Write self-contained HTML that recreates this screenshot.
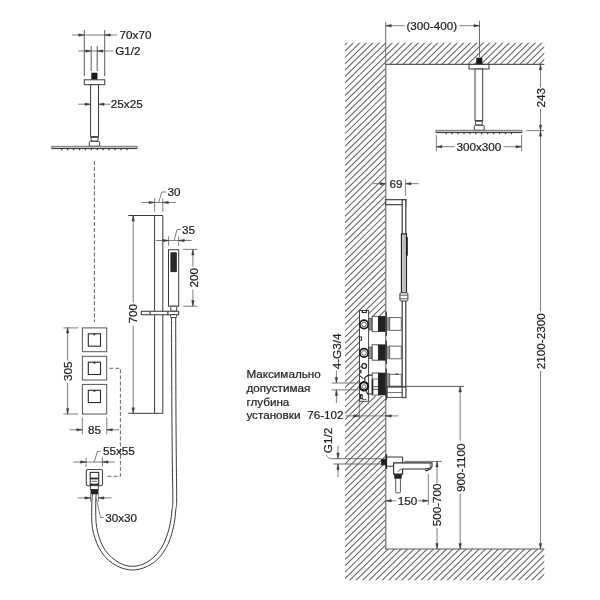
<!DOCTYPE html>
<html><head><meta charset="utf-8"><title>Shower system dimensions</title>
<style>html,body{margin:0;padding:0;background:#fff;}body{width:600px;height:600px;overflow:hidden;}svg{display:block;will-change:transform;}text{font-family:"Liberation Sans",sans-serif;}</style></head><body>
<svg width="600" height="600" viewBox="0 0 600 600">
<rect x="0" y="0" width="600" height="600" fill="#ffffff"/>
<defs><clipPath id="hc"><path d="M345.0,42.8 H544.3 V64.4 H385.7 V316.3 H368.7 V310.5 H359.3 V401.3 H368.7 V396 H385.7 V549.0 H544.3 V580.3 H345.0 Z"/></clipPath></defs>
<g clip-path="url(#hc)">
<line x1="343.00" y1="27.54" x2="546.30" y2="-171.29" stroke="#626262" stroke-width="1.05" />
<line x1="343.00" y1="33.90" x2="546.30" y2="-164.93" stroke="#626262" stroke-width="1.05" />
<line x1="343.00" y1="40.25" x2="546.30" y2="-158.58" stroke="#626262" stroke-width="1.05" />
<line x1="343.00" y1="46.61" x2="546.30" y2="-152.22" stroke="#626262" stroke-width="1.05" />
<line x1="343.00" y1="52.96" x2="546.30" y2="-145.87" stroke="#626262" stroke-width="1.05" />
<line x1="343.00" y1="59.32" x2="546.30" y2="-139.51" stroke="#626262" stroke-width="1.05" />
<line x1="343.00" y1="65.67" x2="546.30" y2="-133.16" stroke="#626262" stroke-width="1.05" />
<line x1="343.00" y1="72.03" x2="546.30" y2="-126.80" stroke="#626262" stroke-width="1.05" />
<line x1="343.00" y1="78.38" x2="546.30" y2="-120.45" stroke="#626262" stroke-width="1.05" />
<line x1="343.00" y1="84.74" x2="546.30" y2="-114.09" stroke="#626262" stroke-width="1.05" />
<line x1="343.00" y1="91.09" x2="546.30" y2="-107.74" stroke="#626262" stroke-width="1.05" />
<line x1="343.00" y1="97.45" x2="546.30" y2="-101.38" stroke="#626262" stroke-width="1.05" />
<line x1="343.00" y1="103.80" x2="546.30" y2="-95.03" stroke="#626262" stroke-width="1.05" />
<line x1="343.00" y1="110.16" x2="546.30" y2="-88.67" stroke="#626262" stroke-width="1.05" />
<line x1="343.00" y1="116.51" x2="546.30" y2="-82.32" stroke="#626262" stroke-width="1.05" />
<line x1="343.00" y1="122.87" x2="546.30" y2="-75.96" stroke="#626262" stroke-width="1.05" />
<line x1="343.00" y1="129.22" x2="546.30" y2="-69.61" stroke="#626262" stroke-width="1.05" />
<line x1="343.00" y1="135.58" x2="546.30" y2="-63.25" stroke="#626262" stroke-width="1.05" />
<line x1="343.00" y1="141.93" x2="546.30" y2="-56.90" stroke="#626262" stroke-width="1.05" />
<line x1="343.00" y1="148.29" x2="546.30" y2="-50.54" stroke="#626262" stroke-width="1.05" />
<line x1="343.00" y1="154.64" x2="546.30" y2="-44.19" stroke="#626262" stroke-width="1.05" />
<line x1="343.00" y1="161.00" x2="546.30" y2="-37.83" stroke="#626262" stroke-width="1.05" />
<line x1="343.00" y1="167.35" x2="546.30" y2="-31.48" stroke="#626262" stroke-width="1.05" />
<line x1="343.00" y1="173.71" x2="546.30" y2="-25.12" stroke="#626262" stroke-width="1.05" />
<line x1="343.00" y1="180.06" x2="546.30" y2="-18.77" stroke="#626262" stroke-width="1.05" />
<line x1="343.00" y1="186.42" x2="546.30" y2="-12.41" stroke="#626262" stroke-width="1.05" />
<line x1="343.00" y1="192.77" x2="546.30" y2="-6.06" stroke="#626262" stroke-width="1.05" />
<line x1="343.00" y1="199.13" x2="546.30" y2="0.30" stroke="#626262" stroke-width="1.05" />
<line x1="343.00" y1="205.48" x2="546.30" y2="6.65" stroke="#626262" stroke-width="1.05" />
<line x1="343.00" y1="211.84" x2="546.30" y2="13.01" stroke="#626262" stroke-width="1.05" />
<line x1="343.00" y1="218.19" x2="546.30" y2="19.36" stroke="#626262" stroke-width="1.05" />
<line x1="343.00" y1="224.55" x2="546.30" y2="25.72" stroke="#626262" stroke-width="1.05" />
<line x1="343.00" y1="230.90" x2="546.30" y2="32.07" stroke="#626262" stroke-width="1.05" />
<line x1="343.00" y1="237.26" x2="546.30" y2="38.43" stroke="#626262" stroke-width="1.05" />
<line x1="343.00" y1="243.61" x2="546.30" y2="44.78" stroke="#626262" stroke-width="1.05" />
<line x1="343.00" y1="249.97" x2="546.30" y2="51.14" stroke="#626262" stroke-width="1.05" />
<line x1="343.00" y1="256.32" x2="546.30" y2="57.49" stroke="#626262" stroke-width="1.05" />
<line x1="343.00" y1="262.68" x2="546.30" y2="63.85" stroke="#626262" stroke-width="1.05" />
<line x1="343.00" y1="269.03" x2="546.30" y2="70.20" stroke="#626262" stroke-width="1.05" />
<line x1="343.00" y1="275.39" x2="546.30" y2="76.56" stroke="#626262" stroke-width="1.05" />
<line x1="343.00" y1="281.74" x2="546.30" y2="82.91" stroke="#626262" stroke-width="1.05" />
<line x1="343.00" y1="288.10" x2="546.30" y2="89.27" stroke="#626262" stroke-width="1.05" />
<line x1="343.00" y1="294.45" x2="546.30" y2="95.62" stroke="#626262" stroke-width="1.05" />
<line x1="343.00" y1="300.81" x2="546.30" y2="101.98" stroke="#626262" stroke-width="1.05" />
<line x1="343.00" y1="307.16" x2="546.30" y2="108.33" stroke="#626262" stroke-width="1.05" />
<line x1="343.00" y1="313.52" x2="546.30" y2="114.69" stroke="#626262" stroke-width="1.05" />
<line x1="343.00" y1="319.87" x2="546.30" y2="121.04" stroke="#626262" stroke-width="1.05" />
<line x1="343.00" y1="326.23" x2="546.30" y2="127.40" stroke="#626262" stroke-width="1.05" />
<line x1="343.00" y1="332.58" x2="546.30" y2="133.75" stroke="#626262" stroke-width="1.05" />
<line x1="343.00" y1="338.94" x2="546.30" y2="140.11" stroke="#626262" stroke-width="1.05" />
<line x1="343.00" y1="345.29" x2="546.30" y2="146.46" stroke="#626262" stroke-width="1.05" />
<line x1="343.00" y1="351.65" x2="546.30" y2="152.82" stroke="#626262" stroke-width="1.05" />
<line x1="343.00" y1="358.00" x2="546.30" y2="159.17" stroke="#626262" stroke-width="1.05" />
<line x1="343.00" y1="364.36" x2="546.30" y2="165.53" stroke="#626262" stroke-width="1.05" />
<line x1="343.00" y1="370.71" x2="546.30" y2="171.88" stroke="#626262" stroke-width="1.05" />
<line x1="343.00" y1="377.07" x2="546.30" y2="178.24" stroke="#626262" stroke-width="1.05" />
<line x1="343.00" y1="383.42" x2="546.30" y2="184.59" stroke="#626262" stroke-width="1.05" />
<line x1="343.00" y1="389.78" x2="546.30" y2="190.95" stroke="#626262" stroke-width="1.05" />
<line x1="343.00" y1="396.13" x2="546.30" y2="197.30" stroke="#626262" stroke-width="1.05" />
<line x1="343.00" y1="402.49" x2="546.30" y2="203.66" stroke="#626262" stroke-width="1.05" />
<line x1="343.00" y1="408.84" x2="546.30" y2="210.01" stroke="#626262" stroke-width="1.05" />
<line x1="343.00" y1="415.20" x2="546.30" y2="216.37" stroke="#626262" stroke-width="1.05" />
<line x1="343.00" y1="421.55" x2="546.30" y2="222.72" stroke="#626262" stroke-width="1.05" />
<line x1="343.00" y1="427.91" x2="546.30" y2="229.08" stroke="#626262" stroke-width="1.05" />
<line x1="343.00" y1="434.26" x2="546.30" y2="235.43" stroke="#626262" stroke-width="1.05" />
<line x1="343.00" y1="440.62" x2="546.30" y2="241.79" stroke="#626262" stroke-width="1.05" />
<line x1="343.00" y1="446.97" x2="546.30" y2="248.14" stroke="#626262" stroke-width="1.05" />
<line x1="343.00" y1="453.33" x2="546.30" y2="254.50" stroke="#626262" stroke-width="1.05" />
<line x1="343.00" y1="459.68" x2="546.30" y2="260.85" stroke="#626262" stroke-width="1.05" />
<line x1="343.00" y1="466.04" x2="546.30" y2="267.21" stroke="#626262" stroke-width="1.05" />
<line x1="343.00" y1="472.39" x2="546.30" y2="273.56" stroke="#626262" stroke-width="1.05" />
<line x1="343.00" y1="478.75" x2="546.30" y2="279.92" stroke="#626262" stroke-width="1.05" />
<line x1="343.00" y1="485.10" x2="546.30" y2="286.27" stroke="#626262" stroke-width="1.05" />
<line x1="343.00" y1="491.46" x2="546.30" y2="292.63" stroke="#626262" stroke-width="1.05" />
<line x1="343.00" y1="497.81" x2="546.30" y2="298.98" stroke="#626262" stroke-width="1.05" />
<line x1="343.00" y1="504.17" x2="546.30" y2="305.34" stroke="#626262" stroke-width="1.05" />
<line x1="343.00" y1="510.52" x2="546.30" y2="311.69" stroke="#626262" stroke-width="1.05" />
<line x1="343.00" y1="516.88" x2="546.30" y2="318.05" stroke="#626262" stroke-width="1.05" />
<line x1="343.00" y1="523.23" x2="546.30" y2="324.40" stroke="#626262" stroke-width="1.05" />
<line x1="343.00" y1="529.59" x2="546.30" y2="330.76" stroke="#626262" stroke-width="1.05" />
<line x1="343.00" y1="535.94" x2="546.30" y2="337.11" stroke="#626262" stroke-width="1.05" />
<line x1="343.00" y1="542.30" x2="546.30" y2="343.47" stroke="#626262" stroke-width="1.05" />
<line x1="343.00" y1="548.65" x2="546.30" y2="349.82" stroke="#626262" stroke-width="1.05" />
<line x1="343.00" y1="555.01" x2="546.30" y2="356.18" stroke="#626262" stroke-width="1.05" />
<line x1="343.00" y1="561.36" x2="546.30" y2="362.53" stroke="#626262" stroke-width="1.05" />
<line x1="343.00" y1="567.72" x2="546.30" y2="368.89" stroke="#626262" stroke-width="1.05" />
<line x1="343.00" y1="574.07" x2="546.30" y2="375.24" stroke="#626262" stroke-width="1.05" />
<line x1="343.00" y1="580.43" x2="546.30" y2="381.60" stroke="#626262" stroke-width="1.05" />
<line x1="343.00" y1="586.78" x2="546.30" y2="387.95" stroke="#626262" stroke-width="1.05" />
<line x1="343.00" y1="593.14" x2="546.30" y2="394.31" stroke="#626262" stroke-width="1.05" />
<line x1="343.00" y1="599.49" x2="546.30" y2="400.66" stroke="#626262" stroke-width="1.05" />
<line x1="343.00" y1="605.85" x2="546.30" y2="407.02" stroke="#626262" stroke-width="1.05" />
<line x1="343.00" y1="612.20" x2="546.30" y2="413.37" stroke="#626262" stroke-width="1.05" />
<line x1="343.00" y1="618.56" x2="546.30" y2="419.73" stroke="#626262" stroke-width="1.05" />
<line x1="343.00" y1="624.91" x2="546.30" y2="426.08" stroke="#626262" stroke-width="1.05" />
<line x1="343.00" y1="631.27" x2="546.30" y2="432.44" stroke="#626262" stroke-width="1.05" />
<line x1="343.00" y1="637.62" x2="546.30" y2="438.79" stroke="#626262" stroke-width="1.05" />
<line x1="343.00" y1="643.98" x2="546.30" y2="445.15" stroke="#626262" stroke-width="1.05" />
<line x1="343.00" y1="650.33" x2="546.30" y2="451.50" stroke="#626262" stroke-width="1.05" />
<line x1="343.00" y1="656.69" x2="546.30" y2="457.86" stroke="#626262" stroke-width="1.05" />
<line x1="343.00" y1="663.04" x2="546.30" y2="464.21" stroke="#626262" stroke-width="1.05" />
<line x1="343.00" y1="669.40" x2="546.30" y2="470.57" stroke="#626262" stroke-width="1.05" />
<line x1="343.00" y1="675.75" x2="546.30" y2="476.92" stroke="#626262" stroke-width="1.05" />
<line x1="343.00" y1="682.11" x2="546.30" y2="483.28" stroke="#626262" stroke-width="1.05" />
<line x1="343.00" y1="688.46" x2="546.30" y2="489.63" stroke="#626262" stroke-width="1.05" />
<line x1="343.00" y1="694.82" x2="546.30" y2="495.99" stroke="#626262" stroke-width="1.05" />
<line x1="343.00" y1="701.17" x2="546.30" y2="502.34" stroke="#626262" stroke-width="1.05" />
<line x1="343.00" y1="707.53" x2="546.30" y2="508.70" stroke="#626262" stroke-width="1.05" />
<line x1="343.00" y1="713.88" x2="546.30" y2="515.05" stroke="#626262" stroke-width="1.05" />
<line x1="343.00" y1="720.24" x2="546.30" y2="521.41" stroke="#626262" stroke-width="1.05" />
<line x1="343.00" y1="726.59" x2="546.30" y2="527.76" stroke="#626262" stroke-width="1.05" />
<line x1="343.00" y1="732.95" x2="546.30" y2="534.12" stroke="#626262" stroke-width="1.05" />
<line x1="343.00" y1="739.30" x2="546.30" y2="540.47" stroke="#626262" stroke-width="1.05" />
<line x1="343.00" y1="745.66" x2="546.30" y2="546.83" stroke="#626262" stroke-width="1.05" />
<line x1="343.00" y1="752.01" x2="546.30" y2="553.18" stroke="#626262" stroke-width="1.05" />
<line x1="343.00" y1="758.37" x2="546.30" y2="559.54" stroke="#626262" stroke-width="1.05" />
<line x1="343.00" y1="764.72" x2="546.30" y2="565.89" stroke="#626262" stroke-width="1.05" />
<line x1="343.00" y1="771.08" x2="546.30" y2="572.25" stroke="#626262" stroke-width="1.05" />
<line x1="343.00" y1="777.43" x2="546.30" y2="578.60" stroke="#626262" stroke-width="1.05" />
</g>
<line x1="385.70" y1="64.40" x2="385.70" y2="549.00" stroke="#858585" stroke-width="1.45" />
<line x1="385.10" y1="64.40" x2="544.30" y2="64.40" stroke="#5a5a5a" stroke-width="1.15" />
<line x1="385.10" y1="549.00" x2="544.30" y2="549.00" stroke="#5a5a5a" stroke-width="1.15" />
<line x1="84.30" y1="30.00" x2="84.30" y2="76.00" stroke="#484848" stroke-width="0.9" />
<line x1="104.70" y1="30.00" x2="104.70" y2="76.00" stroke="#484848" stroke-width="0.9" />
<line x1="72.00" y1="35.00" x2="117.00" y2="35.00" stroke="#5e5e5e" stroke-width="0.8" />
<polygon points="84.30,35.00 78.70,33.75 78.70,36.25" fill="#3a3a3a" stroke="#3a3a3a" stroke-width="0.4"/>
<polygon points="104.70,35.00 110.30,33.75 110.30,36.25" fill="#3a3a3a" stroke="#3a3a3a" stroke-width="0.4"/>
<text x="119.60" y="38.50" font-size="11.7" fill="#1e1e1e" stroke="#1e1e1e" stroke-width="0.22" text-anchor="start">70x70</text>
<line x1="91.20" y1="46.00" x2="91.20" y2="71.00" stroke="#484848" stroke-width="0.9" />
<line x1="97.20" y1="46.00" x2="97.20" y2="71.00" stroke="#484848" stroke-width="0.9" />
<line x1="78.30" y1="51.00" x2="113.30" y2="51.00" stroke="#5e5e5e" stroke-width="0.8" />
<polygon points="91.20,51.00 85.60,49.75 85.60,52.25" fill="#3a3a3a" stroke="#3a3a3a" stroke-width="0.4"/>
<polygon points="97.20,51.00 102.80,49.75 102.80,52.25" fill="#3a3a3a" stroke="#3a3a3a" stroke-width="0.4"/>
<text x="115.20" y="54.60" font-size="11.7" fill="#1e1e1e" stroke="#1e1e1e" stroke-width="0.22" text-anchor="start">G1/2</text>
<rect x="91.70" y="73.00" width="5.40" height="6.50" fill="#1a1a1a" stroke="#1a1a1a" stroke-width="0.6" rx="0"/>
<rect x="84.30" y="79.80" width="20.40" height="4.90" fill="#fff" stroke="#3a3a3a" stroke-width="1.0" rx="0"/>
<rect x="90.60" y="84.70" width="7.90" height="52.00" fill="#fff" stroke="#3a3a3a" stroke-width="1.0" rx="0"/>
<line x1="78.30" y1="104.20" x2="90.60" y2="104.20" stroke="#5e5e5e" stroke-width="0.8" />
<polygon points="90.60,104.20 85.00,102.95 85.00,105.45" fill="#3a3a3a" stroke="#3a3a3a" stroke-width="0.4"/>
<line x1="98.50" y1="104.20" x2="110.00" y2="104.20" stroke="#5e5e5e" stroke-width="0.8" />
<polygon points="98.50,104.20 104.10,102.95 104.10,105.45" fill="#3a3a3a" stroke="#3a3a3a" stroke-width="0.4"/>
<text x="110.80" y="108.00" font-size="11.7" fill="#1e1e1e" stroke="#1e1e1e" stroke-width="0.22" text-anchor="start">25x25</text>
<rect x="91.10" y="136.70" width="6.90" height="4.50" fill="#fff" stroke="#3a3a3a" stroke-width="1.0" rx="1.2"/>
<line x1="91.10" y1="137.50" x2="98.00" y2="137.50" stroke="#444" stroke-width="0.9" />
<rect x="89.30" y="141.30" width="10.40" height="5.00" fill="#fff" stroke="#3a3a3a" stroke-width="1.0" rx="1.2"/>
<rect x="51.80" y="146.30" width="85.20" height="2.20" fill="#c6c6c6" stroke="#6a6a6a" stroke-width="0.9" rx="0"/>
<line x1="51.80" y1="148.60" x2="137.00" y2="148.60" stroke="#3a3a3a" stroke-width="1.0" />
<line x1="61.70" y1="148.50" x2="61.70" y2="150.20" stroke="#333" stroke-width="1.2" />
<line x1="67.63" y1="148.50" x2="67.63" y2="150.20" stroke="#333" stroke-width="1.2" />
<line x1="73.56" y1="148.50" x2="73.56" y2="150.20" stroke="#333" stroke-width="1.2" />
<line x1="79.49" y1="148.50" x2="79.49" y2="150.20" stroke="#333" stroke-width="1.2" />
<line x1="85.42" y1="148.50" x2="85.42" y2="150.20" stroke="#333" stroke-width="1.2" />
<line x1="91.35" y1="148.50" x2="91.35" y2="150.20" stroke="#333" stroke-width="1.2" />
<line x1="97.28" y1="148.50" x2="97.28" y2="150.20" stroke="#333" stroke-width="1.2" />
<line x1="103.21" y1="148.50" x2="103.21" y2="150.20" stroke="#333" stroke-width="1.2" />
<line x1="109.14" y1="148.50" x2="109.14" y2="150.20" stroke="#333" stroke-width="1.2" />
<line x1="115.07" y1="148.50" x2="115.07" y2="150.20" stroke="#333" stroke-width="1.2" />
<line x1="121.00" y1="148.50" x2="121.00" y2="150.20" stroke="#333" stroke-width="1.2" />
<line x1="126.93" y1="148.50" x2="126.93" y2="150.20" stroke="#333" stroke-width="1.2" />
<line x1="94.40" y1="161.00" x2="94.40" y2="322.00" stroke="#555" stroke-width="0.95" stroke-dasharray="4 2.1"/>
<line x1="154.60" y1="198.30" x2="154.60" y2="211.70" stroke="#5e5e5e" stroke-width="0.8" />
<line x1="162.80" y1="198.30" x2="162.80" y2="211.70" stroke="#5e5e5e" stroke-width="0.8" />
<line x1="141.30" y1="202.50" x2="175.80" y2="202.50" stroke="#5e5e5e" stroke-width="0.8" />
<polygon points="154.60,202.50 149.00,201.25 149.00,203.75" fill="#3a3a3a" stroke="#3a3a3a" stroke-width="0.4"/>
<polygon points="162.80,202.50 168.40,201.25 168.40,203.75" fill="#3a3a3a" stroke="#3a3a3a" stroke-width="0.4"/>
<path d="M158.7,202.5 L161.7,192 H166.3" fill="none" stroke="#5e5e5e" stroke-width="0.8" />
<text x="167.40" y="196.30" font-size="11.7" fill="#1e1e1e" stroke="#1e1e1e" stroke-width="0.22" text-anchor="start">30</text>
<path d="M128.3,215.5 H162.8 V413.3 H128.3" fill="none" stroke="#3a3a3a" stroke-width="1.0" />
<line x1="154.60" y1="215.50" x2="154.60" y2="413.30" stroke="#3a3a3a" stroke-width="1.0" />
<line x1="133.20" y1="215.50" x2="133.20" y2="302.50" stroke="#5e5e5e" stroke-width="0.8" />
<line x1="133.20" y1="325.50" x2="133.20" y2="413.30" stroke="#5e5e5e" stroke-width="0.8" />
<polygon points="133.20,215.50 131.95,221.10 134.45,221.10" fill="#3a3a3a" stroke="#3a3a3a" stroke-width="0.4"/>
<polygon points="133.20,413.30 131.95,407.70 134.45,407.70" fill="#3a3a3a" stroke="#3a3a3a" stroke-width="0.4"/>
<text transform="translate(137.30,323.40) rotate(-90)" font-size="11.7" fill="#1e1e1e" stroke="#1e1e1e" stroke-width="0.22" text-anchor="start">700</text>
<line x1="168.60" y1="236.30" x2="168.60" y2="245.80" stroke="#5e5e5e" stroke-width="0.8" />
<line x1="178.70" y1="236.30" x2="178.70" y2="245.80" stroke="#5e5e5e" stroke-width="0.8" />
<line x1="155.80" y1="240.50" x2="191.70" y2="240.50" stroke="#5e5e5e" stroke-width="0.8" />
<polygon points="168.60,240.50 163.00,239.25 163.00,241.75" fill="#3a3a3a" stroke="#3a3a3a" stroke-width="0.4"/>
<polygon points="178.70,240.50 184.30,239.25 184.30,241.75" fill="#3a3a3a" stroke="#3a3a3a" stroke-width="0.4"/>
<path d="M174.2,240.5 L177,229.5 H180.8" fill="none" stroke="#5e5e5e" stroke-width="0.8" />
<text x="182.00" y="233.80" font-size="11.7" fill="#1e1e1e" stroke="#1e1e1e" stroke-width="0.22" text-anchor="start">35</text>
<rect x="168.50" y="249.70" width="10.20" height="56.50" fill="#fff" stroke="#3a3a3a" stroke-width="1.0" rx="0"/>
<rect x="170.90" y="252.80" width="5.40" height="18.90" fill="#2a2a2a" stroke="#1a1a1a" stroke-width="0.8" rx="0"/>
<line x1="182.50" y1="249.40" x2="197.50" y2="249.40" stroke="#5e5e5e" stroke-width="0.8" />
<line x1="183.30" y1="306.20" x2="197.50" y2="306.20" stroke="#5e5e5e" stroke-width="0.8" />
<line x1="192.90" y1="249.40" x2="192.90" y2="266.50" stroke="#5e5e5e" stroke-width="0.8" />
<line x1="192.90" y1="289.50" x2="192.90" y2="306.20" stroke="#5e5e5e" stroke-width="0.8" />
<polygon points="192.90,249.40 191.65,255.00 194.15,255.00" fill="#3a3a3a" stroke="#3a3a3a" stroke-width="0.4"/>
<polygon points="192.90,306.20 191.65,300.60 194.15,300.60" fill="#3a3a3a" stroke="#3a3a3a" stroke-width="0.4"/>
<text transform="translate(197.50,287.60) rotate(-90)" font-size="11.7" fill="#1e1e1e" stroke="#1e1e1e" stroke-width="0.22" text-anchor="start">200</text>
<rect x="170.80" y="306.20" width="5.90" height="5.00" fill="#fff" stroke="#3a3a3a" stroke-width="1.0" rx="1.0"/>
<rect x="141.30" y="311.20" width="37.40" height="3.50" fill="#fff" stroke="#333" stroke-width="1.1" rx="0.8"/>
<line x1="150.00" y1="311.20" x2="150.00" y2="314.70" stroke="#444" stroke-width="1.3" />
<line x1="167.90" y1="311.20" x2="167.90" y2="314.70" stroke="#444" stroke-width="1.3" />
<rect x="170.50" y="314.70" width="6.20" height="2.90" fill="#fff" stroke="#3a3a3a" stroke-width="1.0" rx="1.0"/>
<path d="M92.50,494.00 C92.42,495.00 92.13,496.22 92.00,500.00 C91.87,503.78 91.62,511.98 91.70,516.70 C91.78,521.42 91.95,524.70 92.50,528.30 C93.05,531.90 93.88,534.97 95.00,538.30 C96.12,541.63 97.53,545.23 99.20,548.30 C100.87,551.37 102.78,554.20 105.00,556.70 C107.22,559.20 109.72,561.42 112.50,563.30 C115.28,565.18 118.37,566.88 121.70,568.00 C125.03,569.12 128.90,570.00 132.50,570.00 C136.10,570.00 139.97,569.12 143.30,568.00 C146.63,566.88 149.72,565.18 152.50,563.30 C155.28,561.42 157.63,559.47 160.00,556.70 C162.37,553.93 164.90,550.03 166.70,546.70 C168.50,543.37 169.55,540.60 170.80,536.70 C172.05,532.80 173.37,527.75 174.20,523.30 C175.03,518.85 175.38,513.88 175.80,510.00 C176.22,506.12 176.62,508.33 176.70,500.00 C176.78,491.67 176.43,476.67 176.30,460.00 C176.17,443.33 176.00,423.73 175.90,400.00 C175.80,376.27 175.73,331.33 175.70,317.60" fill="none" stroke="#3a3a3a" stroke-width="1.0" />
<path d="M96.20,494.00 C96.13,495.00 95.87,496.22 95.80,500.00 C95.73,503.78 95.65,512.12 95.80,516.70 C95.95,521.28 96.13,524.03 96.70,527.50 C97.27,530.97 98.15,534.30 99.20,537.50 C100.25,540.70 101.48,543.92 103.00,546.70 C104.52,549.48 106.30,551.98 108.30,554.20 C110.30,556.42 112.50,558.25 115.00,560.00 C117.50,561.75 120.38,563.65 123.30,564.70 C126.22,565.75 129.43,566.30 132.50,566.30 C135.57,566.30 138.78,565.70 141.70,564.70 C144.62,563.70 147.37,562.20 150.00,560.30 C152.63,558.40 155.33,555.85 157.50,553.30 C159.67,550.75 161.38,548.05 163.00,545.00 C164.62,541.95 165.98,538.62 167.20,535.00 C168.42,531.38 169.50,527.47 170.30,523.30 C171.10,519.13 171.58,513.88 172.00,510.00 C172.42,506.12 172.75,508.33 172.80,500.00 C172.85,491.67 172.47,476.67 172.30,460.00 C172.13,443.33 171.93,423.73 171.80,400.00 C171.67,376.27 171.55,331.33 171.50,317.60" fill="none" stroke="#3a3a3a" stroke-width="1.0" />
<rect x="82.40" y="327.90" width="24.30" height="23.80" fill="#fff" stroke="#555" stroke-width="1.0" rx="0"/>
<rect x="88.30" y="333.80" width="12.20" height="12.40" fill="#fff" stroke="#2a2a2a" stroke-width="1.1" rx="0"/>
<line x1="94.40" y1="333.40" x2="94.40" y2="335.30" stroke="#222" stroke-width="1.6" />
<rect x="82.40" y="356.30" width="24.30" height="23.70" fill="#fff" stroke="#555" stroke-width="1.0" rx="0"/>
<rect x="88.30" y="362.20" width="12.20" height="12.30" fill="#fff" stroke="#2a2a2a" stroke-width="1.1" rx="0"/>
<line x1="94.40" y1="361.80" x2="94.40" y2="363.70" stroke="#222" stroke-width="1.6" />
<rect x="82.40" y="384.40" width="24.30" height="29.60" fill="#fff" stroke="#555" stroke-width="1.0" rx="0"/>
<rect x="88.30" y="390.30" width="12.20" height="12.30" fill="#fff" stroke="#2a2a2a" stroke-width="1.1" rx="0"/>
<line x1="94.40" y1="389.90" x2="94.40" y2="391.80" stroke="#222" stroke-width="1.6" />
<line x1="63.30" y1="327.90" x2="78.30" y2="327.90" stroke="#5e5e5e" stroke-width="0.8" />
<line x1="63.30" y1="414.00" x2="78.30" y2="414.00" stroke="#5e5e5e" stroke-width="0.8" />
<line x1="67.60" y1="327.50" x2="67.60" y2="360.50" stroke="#5e5e5e" stroke-width="0.8" />
<line x1="67.60" y1="382.80" x2="67.60" y2="414.00" stroke="#5e5e5e" stroke-width="0.8" />
<polygon points="67.60,327.50 66.35,333.10 68.85,333.10" fill="#3a3a3a" stroke="#3a3a3a" stroke-width="0.4"/>
<polygon points="67.60,414.00 66.35,408.40 68.85,408.40" fill="#3a3a3a" stroke="#3a3a3a" stroke-width="0.4"/>
<text transform="translate(72.00,381.00) rotate(-90)" font-size="11.7" fill="#1e1e1e" stroke="#1e1e1e" stroke-width="0.22" text-anchor="start">305</text>
<line x1="82.30" y1="417.50" x2="82.30" y2="434.20" stroke="#5e5e5e" stroke-width="0.8" />
<line x1="106.80" y1="417.50" x2="106.80" y2="434.20" stroke="#5e5e5e" stroke-width="0.8" />
<line x1="69.70" y1="429.80" x2="82.30" y2="429.80" stroke="#5e5e5e" stroke-width="0.8" />
<polygon points="82.30,429.80 76.70,428.55 76.70,431.05" fill="#3a3a3a" stroke="#3a3a3a" stroke-width="0.4"/>
<line x1="106.80" y1="429.80" x2="119.20" y2="429.80" stroke="#5e5e5e" stroke-width="0.8" />
<polygon points="106.80,429.80 112.40,428.55 112.40,431.05" fill="#3a3a3a" stroke="#3a3a3a" stroke-width="0.4"/>
<text x="88.10" y="433.90" font-size="11.7" fill="#1e1e1e" stroke="#1e1e1e" stroke-width="0.22" text-anchor="start">85</text>
<path d="M109.2,368.3 H120.4 V476.3 H107.5" fill="none" stroke="#555" stroke-width="0.9" stroke-dasharray="4 2.1"/>
<line x1="86.10" y1="457.50" x2="86.10" y2="466.70" stroke="#5e5e5e" stroke-width="0.8" />
<line x1="102.40" y1="457.50" x2="102.40" y2="466.70" stroke="#5e5e5e" stroke-width="0.8" />
<line x1="73.30" y1="462.00" x2="115.00" y2="462.00" stroke="#5e5e5e" stroke-width="0.8" />
<polygon points="86.10,462.00 80.50,460.75 80.50,463.25" fill="#3a3a3a" stroke="#3a3a3a" stroke-width="0.4"/>
<polygon points="102.40,462.00 108.00,460.75 108.00,463.25" fill="#3a3a3a" stroke="#3a3a3a" stroke-width="0.4"/>
<path d="M94.2,462 L97.5,451.3 H100.8" fill="none" stroke="#5e5e5e" stroke-width="0.8" />
<text x="103.00" y="454.90" font-size="11.7" fill="#1e1e1e" stroke="#1e1e1e" stroke-width="0.22" text-anchor="start">55x55</text>
<rect x="86.30" y="469.50" width="16.20" height="16.20" fill="#fff" stroke="#444" stroke-width="1.1" rx="1.6"/>
<rect x="90.20" y="472.40" width="8.50" height="13.30" fill="#fff" stroke="#333" stroke-width="1.1" rx="0"/>
<line x1="90.20" y1="478.50" x2="98.70" y2="478.50" stroke="#222" stroke-width="1.7" />
<line x1="91.60" y1="481.30" x2="97.30" y2="481.30" stroke="#555" stroke-width="0.9" />
<line x1="90.20" y1="484.40" x2="98.70" y2="484.40" stroke="#222" stroke-width="2.0" />
<line x1="92.20" y1="483.20" x2="96.80" y2="483.20" stroke="#fff" stroke-width="0.9" />
<rect x="90.60" y="485.70" width="7.60" height="3.90" fill="#fff" stroke="#444" stroke-width="0.9" rx="0"/>
<rect x="90.90" y="489.60" width="7.20" height="4.40" fill="#222" stroke="#222" stroke-width="0.6" rx="0"/>
<line x1="90.50" y1="494.20" x2="90.50" y2="501.70" stroke="#5e5e5e" stroke-width="0.8" />
<line x1="98.40" y1="494.20" x2="98.40" y2="501.70" stroke="#5e5e5e" stroke-width="0.8" />
<line x1="77.50" y1="497.90" x2="90.50" y2="497.90" stroke="#5e5e5e" stroke-width="0.8" />
<polygon points="90.50,497.90 84.90,496.65 84.90,499.15" fill="#3a3a3a" stroke="#3a3a3a" stroke-width="0.4"/>
<line x1="98.40" y1="497.90" x2="111.70" y2="497.90" stroke="#5e5e5e" stroke-width="0.8" />
<polygon points="98.40,497.90 104.00,496.65 104.00,499.15" fill="#3a3a3a" stroke="#3a3a3a" stroke-width="0.4"/>
<path d="M96.2,497.9 L100.5,517.5 H103.7" fill="none" stroke="#5e5e5e" stroke-width="0.8" />
<text x="105.20" y="521.50" font-size="11.7" fill="#1e1e1e" stroke="#1e1e1e" stroke-width="0.22" text-anchor="start">30x30</text>
<line x1="385.70" y1="21.70" x2="385.70" y2="64.40" stroke="#5e5e5e" stroke-width="0.9" />
<line x1="479.50" y1="20.80" x2="479.50" y2="57.00" stroke="#5e5e5e" stroke-width="0.9" />
<line x1="385.70" y1="25.70" x2="404.50" y2="25.70" stroke="#5e5e5e" stroke-width="0.8" />
<polygon points="385.70,25.70 391.30,24.45 391.30,26.95" fill="#3a3a3a" stroke="#3a3a3a" stroke-width="0.4"/>
<line x1="459.30" y1="25.70" x2="479.50" y2="25.70" stroke="#5e5e5e" stroke-width="0.8" />
<polygon points="479.50,25.70 473.90,24.45 473.90,26.95" fill="#3a3a3a" stroke="#3a3a3a" stroke-width="0.4"/>
<text x="406.40" y="29.60" font-size="11.7" fill="#1e1e1e" stroke="#1e1e1e" stroke-width="0.22" text-anchor="start">(300-400)</text>
<rect x="476.70" y="58.00" width="5.30" height="6.20" fill="#1a1a1a" stroke="#1a1a1a" stroke-width="0.6" rx="0"/>
<rect x="469.00" y="64.40" width="20.00" height="4.60" fill="#fff" stroke="#3a3a3a" stroke-width="1.0" rx="0"/>
<rect x="475.00" y="69.00" width="7.70" height="51.50" fill="#fff" stroke="#3a3a3a" stroke-width="1.0" rx="0"/>
<rect x="475.50" y="120.50" width="6.80" height="4.50" fill="#fff" stroke="#3a3a3a" stroke-width="1.0" rx="1.2"/>
<line x1="475.50" y1="121.30" x2="482.30" y2="121.30" stroke="#444" stroke-width="0.9" />
<rect x="474.30" y="125.30" width="9.90" height="5.00" fill="#fff" stroke="#3a3a3a" stroke-width="1.0" rx="1.2"/>
<rect x="436.00" y="130.30" width="86.00" height="2.20" fill="#c6c6c6" stroke="#6a6a6a" stroke-width="0.9" rx="0"/>
<line x1="436.00" y1="132.60" x2="522.00" y2="132.60" stroke="#3a3a3a" stroke-width="1.0" />
<line x1="446.20" y1="132.50" x2="446.20" y2="134.20" stroke="#333" stroke-width="1.2" />
<line x1="452.13" y1="132.50" x2="452.13" y2="134.20" stroke="#333" stroke-width="1.2" />
<line x1="458.06" y1="132.50" x2="458.06" y2="134.20" stroke="#333" stroke-width="1.2" />
<line x1="463.99" y1="132.50" x2="463.99" y2="134.20" stroke="#333" stroke-width="1.2" />
<line x1="469.92" y1="132.50" x2="469.92" y2="134.20" stroke="#333" stroke-width="1.2" />
<line x1="475.85" y1="132.50" x2="475.85" y2="134.20" stroke="#333" stroke-width="1.2" />
<line x1="481.78" y1="132.50" x2="481.78" y2="134.20" stroke="#333" stroke-width="1.2" />
<line x1="487.71" y1="132.50" x2="487.71" y2="134.20" stroke="#333" stroke-width="1.2" />
<line x1="493.64" y1="132.50" x2="493.64" y2="134.20" stroke="#333" stroke-width="1.2" />
<line x1="499.57" y1="132.50" x2="499.57" y2="134.20" stroke="#333" stroke-width="1.2" />
<line x1="505.50" y1="132.50" x2="505.50" y2="134.20" stroke="#333" stroke-width="1.2" />
<line x1="511.43" y1="132.50" x2="511.43" y2="134.20" stroke="#333" stroke-width="1.2" />
<line x1="526.40" y1="130.60" x2="544.00" y2="130.60" stroke="#5e5e5e" stroke-width="0.8" />
<line x1="540.50" y1="64.40" x2="540.50" y2="87.50" stroke="#5e5e5e" stroke-width="0.8" />
<line x1="540.50" y1="109.00" x2="540.50" y2="130.60" stroke="#5e5e5e" stroke-width="0.8" />
<polygon points="540.50,64.40 539.25,70.00 541.75,70.00" fill="#3a3a3a" stroke="#3a3a3a" stroke-width="0.4"/>
<polygon points="540.50,130.60 539.25,125.00 541.75,125.00" fill="#3a3a3a" stroke="#3a3a3a" stroke-width="0.4"/>
<text transform="translate(544.60,107.60) rotate(-90)" font-size="11.7" fill="#1e1e1e" stroke="#1e1e1e" stroke-width="0.22" text-anchor="start">243</text>
<line x1="436.40" y1="135.00" x2="436.40" y2="151.00" stroke="#5e5e5e" stroke-width="0.8" />
<line x1="521.60" y1="135.00" x2="521.60" y2="151.00" stroke="#5e5e5e" stroke-width="0.8" />
<line x1="436.40" y1="146.70" x2="454.50" y2="146.70" stroke="#5e5e5e" stroke-width="0.8" />
<polygon points="436.40,146.70 442.00,145.45 442.00,147.95" fill="#3a3a3a" stroke="#3a3a3a" stroke-width="0.4"/>
<line x1="503.50" y1="146.70" x2="521.60" y2="146.70" stroke="#5e5e5e" stroke-width="0.8" />
<polygon points="521.60,146.70 516.00,145.45 516.00,147.95" fill="#3a3a3a" stroke="#3a3a3a" stroke-width="0.4"/>
<text x="456.50" y="151.00" font-size="11.7" fill="#1e1e1e" stroke="#1e1e1e" stroke-width="0.22" text-anchor="start">300x300</text>
<line x1="540.50" y1="130.60" x2="540.50" y2="311.50" stroke="#5e5e5e" stroke-width="0.8" />
<line x1="540.50" y1="371.00" x2="540.50" y2="549.00" stroke="#5e5e5e" stroke-width="0.8" />
<polygon points="540.50,130.60 539.25,136.20 541.75,136.20" fill="#3a3a3a" stroke="#3a3a3a" stroke-width="0.4"/>
<polygon points="540.50,549.00 539.25,543.40 541.75,543.40" fill="#3a3a3a" stroke="#3a3a3a" stroke-width="0.4"/>
<text transform="translate(544.60,369.20) rotate(-90)" font-size="11.7" fill="#1e1e1e" stroke="#1e1e1e" stroke-width="0.22" text-anchor="start">2100-2300</text>
<line x1="373.00" y1="183.70" x2="385.70" y2="183.70" stroke="#5e5e5e" stroke-width="0.8" />
<polygon points="385.70,183.70 380.10,182.45 380.10,184.95" fill="#3a3a3a" stroke="#3a3a3a" stroke-width="0.4"/>
<line x1="405.40" y1="183.70" x2="418.70" y2="183.70" stroke="#5e5e5e" stroke-width="0.8" />
<polygon points="405.40,183.70 411.00,182.45 411.00,184.95" fill="#3a3a3a" stroke="#3a3a3a" stroke-width="0.4"/>
<line x1="405.40" y1="179.20" x2="405.40" y2="195.80" stroke="#5e5e5e" stroke-width="0.8" />
<text x="389.60" y="187.70" font-size="11.7" fill="#1e1e1e" stroke="#1e1e1e" stroke-width="0.22" text-anchor="start">69</text>
<rect x="385.70" y="199.70" width="20.10" height="5.00" fill="#fff" stroke="#333" stroke-width="1.1" rx="0"/>
<rect x="402.20" y="199.70" width="3.60" height="197.90" fill="#fff" stroke="#333" stroke-width="1.15" rx="0"/>
<rect x="401.50" y="234.00" width="4.90" height="58.80" fill="#fff" stroke="#222" stroke-width="1.3" rx="0"/>
<line x1="403.20" y1="234.00" x2="403.20" y2="292.80" stroke="#777" stroke-width="0.7" />
<line x1="404.70" y1="234.00" x2="404.70" y2="292.80" stroke="#888" stroke-width="0.7" />
<rect x="406.20" y="237.50" width="1.40" height="18.10" fill="#222" stroke="#222" stroke-width="0.6" rx="0"/>
<rect x="399.90" y="292.80" width="8.00" height="8.20" fill="#fff" stroke="#3a3a3a" stroke-width="1.0" rx="1.3"/>
<line x1="399.90" y1="295.20" x2="407.90" y2="295.20" stroke="#444" stroke-width="0.9" />
<line x1="399.90" y1="298.80" x2="407.90" y2="298.80" stroke="#444" stroke-width="0.9" />
<rect x="359.50" y="310.50" width="9.10" height="90.80" fill="#fff" stroke="#444" stroke-width="1.0" rx="0"/>
<path d="M362.3,310.5 V312.5 H366.3 V310.5" fill="none" stroke="#222" stroke-width="1.2" />
<rect x="359.50" y="337.00" width="2.10" height="3.20" fill="#fff" stroke="#333" stroke-width="1.0" rx="0"/>
<rect x="368.60" y="318.60" width="3.60" height="11.30" fill="#8c8c8c" stroke="#444" stroke-width="0.8" rx="0"/>
<rect x="372.20" y="316.30" width="6.20" height="15.40" fill="#fff" stroke="#444" stroke-width="0.9" rx="0"/>
<rect x="378.40" y="316.30" width="7.60" height="15.40" fill="#222" stroke="#222" stroke-width="0.6" rx="0"/>
<rect x="386.00" y="317.60" width="3.70" height="12.70" fill="#929292" stroke="#777" stroke-width="0.6" rx="0"/>
<rect x="389.70" y="317.60" width="11.60" height="12.70" fill="#fff" stroke="#555" stroke-width="0.9" rx="0"/>
<circle cx="364.00" cy="324.40" r="4.20" fill="#fff" stroke="#1c1c1c" stroke-width="1.8"/>
<circle cx="364.00" cy="324.40" r="2.30" fill="#fff" stroke="#555" stroke-width="0.9"/>
<rect x="368.60" y="347.10" width="3.60" height="11.30" fill="#8c8c8c" stroke="#444" stroke-width="0.8" rx="0"/>
<rect x="372.20" y="344.80" width="6.20" height="15.40" fill="#fff" stroke="#444" stroke-width="0.9" rx="0"/>
<rect x="378.40" y="344.80" width="7.60" height="15.40" fill="#222" stroke="#222" stroke-width="0.6" rx="0"/>
<rect x="386.00" y="346.10" width="3.70" height="12.70" fill="#929292" stroke="#777" stroke-width="0.6" rx="0"/>
<rect x="389.70" y="346.10" width="11.60" height="12.70" fill="#fff" stroke="#555" stroke-width="0.9" rx="0"/>
<circle cx="364.00" cy="352.90" r="4.20" fill="#fff" stroke="#1c1c1c" stroke-width="1.8"/>
<circle cx="364.00" cy="352.90" r="2.30" fill="#fff" stroke="#555" stroke-width="0.9"/>
<circle cx="364.20" cy="366.00" r="2.30" fill="#fff" stroke="#222" stroke-width="1.2"/>
<line x1="359.50" y1="366.80" x2="362.00" y2="366.80" stroke="#333" stroke-width="1.0" />
<line x1="360.80" y1="369.80" x2="360.80" y2="373.20" stroke="#222" stroke-width="1.3" />
<line x1="359.70" y1="375.70" x2="363.30" y2="378.70" stroke="#222" stroke-width="1.1" />
<path d="M364.8,381 V377.6 L368.3,375.2 H372.2" fill="none" stroke="#222" stroke-width="1.2" />
<path d="M366.3,391.3 L367.7,394.0 H372.6" fill="none" stroke="#222" stroke-width="1.2" />
<rect x="372.20" y="373.00" width="6.20" height="22.00" fill="#fff" stroke="#444" stroke-width="0.9" rx="0"/>
<line x1="372.20" y1="379.00" x2="378.40" y2="379.00" stroke="#666" stroke-width="0.9" />
<line x1="372.20" y1="386.70" x2="378.40" y2="386.70" stroke="#444" stroke-width="0.9" />
<line x1="372.20" y1="389.30" x2="378.40" y2="389.30" stroke="#444" stroke-width="0.9" />
<line x1="372.50" y1="379.30" x2="372.50" y2="394.00" stroke="#222" stroke-width="1.6" />
<rect x="378.40" y="373.00" width="7.60" height="22.00" fill="#222" stroke="#222" stroke-width="0.6" rx="0"/>
<rect x="386.00" y="373.30" width="3.70" height="12.90" fill="#929292" stroke="#777" stroke-width="0.6" rx="0"/>
<rect x="389.70" y="374.30" width="11.60" height="11.90" fill="#fff" stroke="#555" stroke-width="0.9" rx="0"/>
<line x1="395.50" y1="374.00" x2="398.00" y2="374.00" stroke="#333" stroke-width="1.2" />
<rect x="387.30" y="387.20" width="18.50" height="10.20" fill="#fff" stroke="#444" stroke-width="0.9" rx="0"/>
<line x1="387.30" y1="392.50" x2="402.20" y2="392.50" stroke="#555" stroke-width="0.8" />
<line x1="402.20" y1="387.20" x2="402.20" y2="397.40" stroke="#333" stroke-width="1.1" />
<circle cx="364.00" cy="386.20" r="4.10" fill="#fff" stroke="#1a1a1a" stroke-width="2.2"/>
<circle cx="364.00" cy="386.60" r="1.90" fill="#fff" stroke="#444" stroke-width="0.8"/>
<rect x="360.50" y="394.70" width="1.70" height="4.00" fill="#fff" stroke="#222" stroke-width="1.0" rx="0"/>
<line x1="362.20" y1="399.40" x2="366.50" y2="399.40" stroke="#444" stroke-width="0.9" />
<line x1="386.30" y1="311.70" x2="386.30" y2="336.00" stroke="#444" stroke-width="1.4" />
<line x1="386.30" y1="340.50" x2="386.30" y2="364.00" stroke="#444" stroke-width="1.4" />
<line x1="386.30" y1="368.50" x2="386.30" y2="400.00" stroke="#444" stroke-width="1.4" />
<line x1="384.00" y1="386.40" x2="464.00" y2="386.40" stroke="#444" stroke-width="0.9" />
<line x1="460.20" y1="386.40" x2="460.20" y2="441.00" stroke="#5e5e5e" stroke-width="0.8" />
<line x1="460.20" y1="493.50" x2="460.20" y2="549.00" stroke="#5e5e5e" stroke-width="0.8" />
<polygon points="460.20,386.40 458.95,392.00 461.45,392.00" fill="#3a3a3a" stroke="#3a3a3a" stroke-width="0.4"/>
<polygon points="460.20,549.00 458.95,543.40 461.45,543.40" fill="#3a3a3a" stroke="#3a3a3a" stroke-width="0.4"/>
<text transform="translate(464.60,491.90) rotate(-90)" font-size="11.7" fill="#1e1e1e" stroke="#1e1e1e" stroke-width="0.22" text-anchor="start">900-1100</text>
<line x1="331.70" y1="383.00" x2="360.00" y2="383.00" stroke="#777" stroke-width="1.0" />
<line x1="331.70" y1="389.90" x2="360.00" y2="389.90" stroke="#777" stroke-width="1.0" />
<line x1="336.40" y1="370.50" x2="336.40" y2="383.00" stroke="#5e5e5e" stroke-width="0.8" />
<polygon points="336.40,383.00 335.15,377.40 337.65,377.40" fill="#3a3a3a" stroke="#3a3a3a" stroke-width="0.4"/>
<line x1="336.40" y1="389.90" x2="336.40" y2="403.00" stroke="#5e5e5e" stroke-width="0.8" />
<polygon points="336.40,389.90 335.15,395.50 337.65,395.50" fill="#3a3a3a" stroke="#3a3a3a" stroke-width="0.4"/>
<text transform="translate(340.50,369.30) rotate(-90)" font-size="11.7" fill="#1e1e1e" stroke="#1e1e1e" stroke-width="0.22" text-anchor="start">4-G3/4</text>
<text x="246.40" y="378.00" font-size="11.7" fill="#1e1e1e" stroke="#1e1e1e" stroke-width="0.22" text-anchor="start">Максимально</text>
<text x="246.40" y="391.80" font-size="11.7" fill="#1e1e1e" stroke="#1e1e1e" stroke-width="0.22" text-anchor="start">допустимая</text>
<text x="246.40" y="405.60" font-size="11.7" fill="#1e1e1e" stroke="#1e1e1e" stroke-width="0.22" text-anchor="start">глубина</text>
<text x="246.40" y="419.40" font-size="11.7" fill="#1e1e1e" stroke="#1e1e1e" stroke-width="0.22" text-anchor="start">установки</text>
<text x="307.20" y="419.40" font-size="11.7" fill="#1e1e1e" stroke="#1e1e1e" stroke-width="0.22" text-anchor="start">76-102</text>
<line x1="359.30" y1="401.30" x2="359.30" y2="418.50" stroke="#5e5e5e" stroke-width="0.8" />
<line x1="345.50" y1="415.90" x2="398.40" y2="415.90" stroke="#5e5e5e" stroke-width="0.8" />
<polygon points="359.30,415.90 353.70,414.65 353.70,417.15" fill="#3a3a3a" stroke="#3a3a3a" stroke-width="0.4"/>
<polygon points="385.70,415.90 391.30,414.65 391.30,417.15" fill="#3a3a3a" stroke="#3a3a3a" stroke-width="0.4"/>
<line x1="333.30" y1="458.70" x2="381.30" y2="458.70" stroke="#6a6a6a" stroke-width="1.0" />
<line x1="333.30" y1="464.00" x2="381.30" y2="464.00" stroke="#6a6a6a" stroke-width="1.0" />
<line x1="338.00" y1="445.70" x2="338.00" y2="458.70" stroke="#5e5e5e" stroke-width="0.8" />
<polygon points="338.00,458.70 336.75,453.10 339.25,453.10" fill="#3a3a3a" stroke="#3a3a3a" stroke-width="0.4"/>
<line x1="338.00" y1="464.00" x2="338.00" y2="477.20" stroke="#5e5e5e" stroke-width="0.8" />
<polygon points="338.00,464.00 336.75,469.60 339.25,469.60" fill="#3a3a3a" stroke="#3a3a3a" stroke-width="0.4"/>
<path d="M326.3,455.0 C327.5,457.5 329,458.7 333.3,458.7" fill="none" stroke="#5e5e5e" stroke-width="0.8" />
<text transform="translate(331.70,453.20) rotate(-90)" font-size="11.7" fill="#1e1e1e" stroke="#1e1e1e" stroke-width="0.22" text-anchor="start">G1/2</text>
<rect x="381.50" y="459.20" width="4.50" height="5.70" fill="#1a1a1a" stroke="#1a1a1a" stroke-width="0.6" rx="0"/>
<line x1="386.30" y1="454.30" x2="386.30" y2="469.00" stroke="#2a2a2a" stroke-width="1.7" />
<path d="M387,457.0 H402.6 V462.6 M387,466.2 H393.5" fill="none" stroke="#333" stroke-width="1.0" />
<line x1="404.50" y1="461.40" x2="442.00" y2="461.40" stroke="#777" stroke-width="1.0" />
<path d="M393.6,474.1 V462.9 H432.0 V466.8 L430.2,468.0 L425.2,469.0 H402.6 V474.1 Z" fill="#fff" stroke="#2a2a2a" stroke-width="1.1" />
<path d="M398.3,471.7 C399.0,469.9 400.6,469.1 402.6,469.0" fill="none" stroke="#444" stroke-width="0.9" />
<path d="M425.0,469.6 L426.4,470.8 L431.4,468.6" fill="none" stroke="#222" stroke-width="1.1" />
<line x1="430.20" y1="463.20" x2="430.20" y2="467.60" stroke="#555" stroke-width="0.8" />
<rect x="394.60" y="474.50" width="6.80" height="3.90" fill="#222" stroke="#222" stroke-width="0.6" rx="0"/>
<rect x="395.70" y="478.40" width="4.70" height="14.50" fill="#fff" stroke="#444" stroke-width="0.9" rx="1.0"/>
<line x1="437.00" y1="461.30" x2="437.00" y2="483.00" stroke="#5e5e5e" stroke-width="0.8" />
<line x1="437.00" y1="528.00" x2="437.00" y2="549.00" stroke="#5e5e5e" stroke-width="0.8" />
<polygon points="437.00,461.30 435.75,466.90 438.25,466.90" fill="#3a3a3a" stroke="#3a3a3a" stroke-width="0.4"/>
<polygon points="437.00,549.00 435.75,543.40 438.25,543.40" fill="#3a3a3a" stroke="#3a3a3a" stroke-width="0.4"/>
<text transform="translate(441.30,526.30) rotate(-90)" font-size="11.7" fill="#1e1e1e" stroke="#1e1e1e" stroke-width="0.22" text-anchor="start">500-700</text>
<line x1="428.30" y1="474.00" x2="428.30" y2="505.00" stroke="#5e5e5e" stroke-width="0.8" />
<line x1="385.70" y1="500.80" x2="396.00" y2="500.80" stroke="#5e5e5e" stroke-width="0.8" />
<polygon points="385.70,500.80 391.30,499.55 391.30,502.05" fill="#3a3a3a" stroke="#3a3a3a" stroke-width="0.4"/>
<line x1="418.00" y1="500.80" x2="428.30" y2="500.80" stroke="#5e5e5e" stroke-width="0.8" />
<polygon points="428.30,500.80 422.70,499.55 422.70,502.05" fill="#3a3a3a" stroke="#3a3a3a" stroke-width="0.4"/>
<text x="397.80" y="505.00" font-size="11.7" fill="#1e1e1e" stroke="#1e1e1e" stroke-width="0.22" text-anchor="start">150</text>
</svg></body></html>
